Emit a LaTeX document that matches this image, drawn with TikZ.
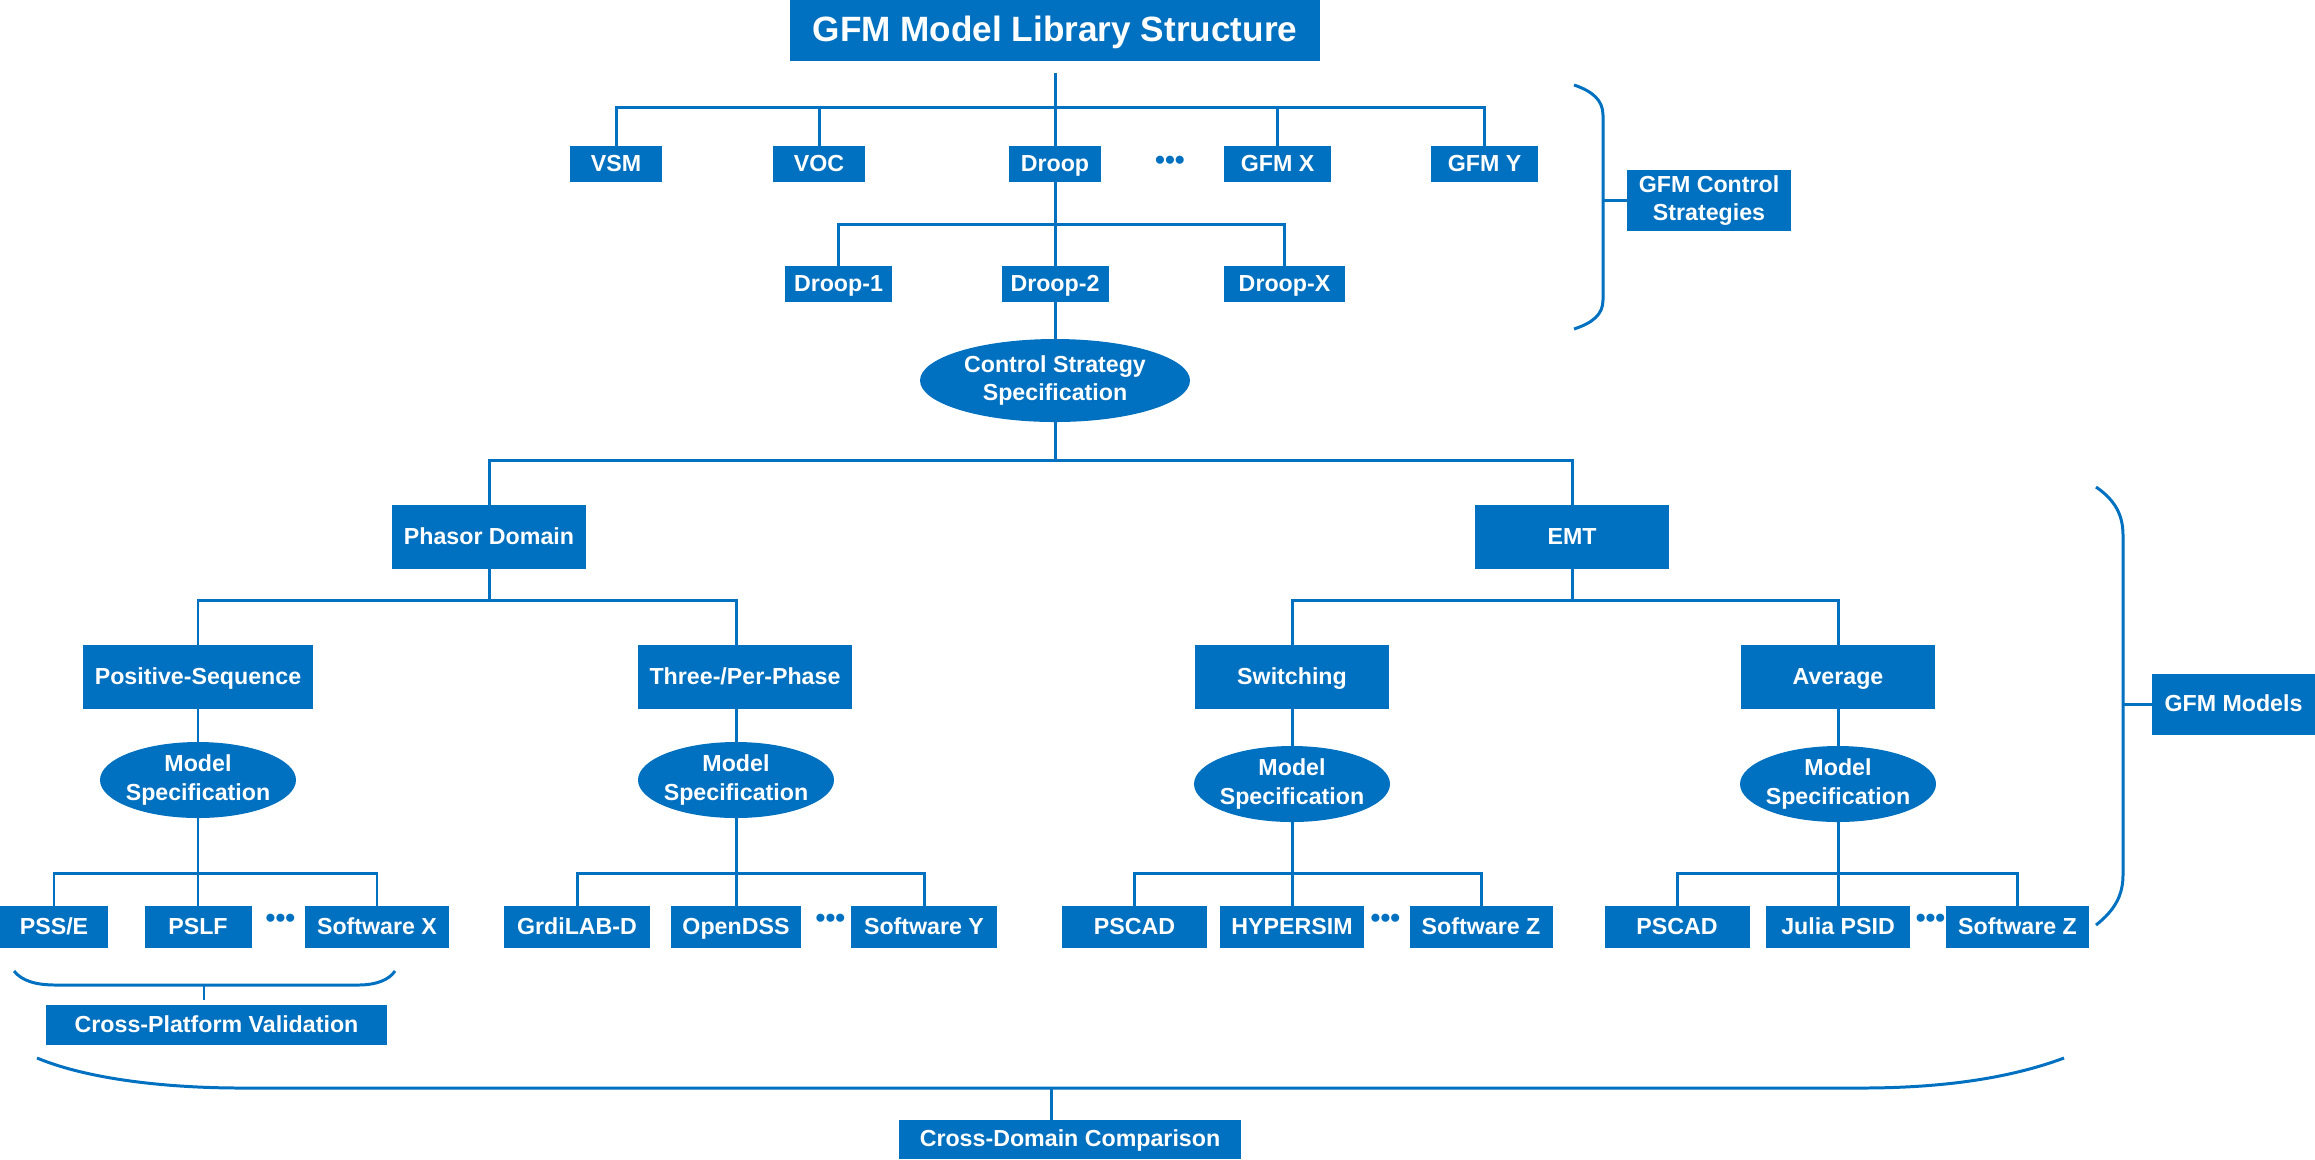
\documentclass[tikz,border=0pt]{standalone}
\usepackage{fontspec}
\setmainfont{Liberation Sans}
\usetikzlibrary{shapes.geometric}
\definecolor{gfmblue}{RGB}{0,112,192}

\begin{document}
\begin{tikzpicture}[x=0.01cm,y=-0.01cm,
  sz/.style 2 args={minimum width=#1*0.01cm,minimum height=#2*0.01cm},
  lbl/.style={text=white,font=\fontsize{6.6}{8.2}\selectfont\bfseries,align=center},
  box/.style={rectangle,fill=gfmblue,inner sep=0pt,outer sep=0pt,lbl},
  one/.style={text height=4.8pt,text depth=0.7pt},
  oval/.style={ellipse,fill=gfmblue,inner xsep=-15pt,inner ysep=-8pt,outer sep=0pt,lbl},
  link/.style={draw=gfmblue,line width=0.85pt},
  brace/.style={draw=gfmblue,line width=0.85pt},
  dots/.style={text=gfmblue,inner sep=0pt,font=\fontsize{8}{9}\selectfont\bfseries}
]
\useasboundingbox (0,0) rectangle (2315,1159);

% ---- title and control strategies ----
\node[box,sz={530}{61},font=\fontsize{10}{12}\selectfont\bfseries,text height=7.2pt,text depth=0.8pt] (title) at (1055,30.5) {GFM Model Library Structure};

\node[box,one,sz={92}{36}]  (vsm)   at (616,164)    {VSM};
\node[box,one,sz={92}{36}]  (voc)   at (819,164)    {VOC};
\node[box,one,sz={92}{36}]  (droop) at (1055,164)   {Droop};
\node[dots]                 (dtop)  at (1170,163)   {•••};
\node[box,one,sz={107}{36}] (gfmx)  at (1277.5,164) {GFM X};
\node[box,one,sz={107}{36}] (gfmy)  at (1484.5,164) {GFM Y};

\node[box,one,sz={107}{36}] (droop1) at (838.5,284)  {Droop-1};
\node[box,one,sz={107}{36}] (droop2) at (1055,284)   {Droop-2};
\node[box,one,sz={121}{36}] (droopx) at (1284.5,284) {Droop-X};

\node[oval,sz={270}{83}] (css) at (1055,380.5) {Control Strategy\\Specification};

\node[box,sz={164}{61}] (gfmcs) at (1709,200.5) {GFM Control\\Strategies};

% ---- domains ----
\node[box,one,sz={194}{64}] (phasor) at (489,537)  {Phasor Domain};
\node[box,one,sz={194}{64}] (emt)    at (1572,537) {EMT};

\node[box,one,sz={230}{64}] (posseq)    at (198,677)  {Positive-Sequence};
\node[box,one,sz={214}{64}] (three)     at (745,677)  {Three-/Per-Phase};
\node[box,one,sz={194}{64}] (switching) at (1292,677) {Switching};
\node[box,one,sz={194}{64}] (average)   at (1838,677) {Average};

\node[oval,sz={196}{76}] (ms1) at (198,780)  {Model\\Specification};
\node[oval,sz={196}{76}] (ms2) at (736,780)  {Model\\Specification};
\node[oval,sz={196}{76}] (ms3) at (1292,784) {Model\\Specification};
\node[oval,sz={196}{76}] (ms4) at (1838,784) {Model\\Specification};

% ---- software tools ----
\node[box,one,sz={108}{42}] (psse)  at (54,927)  {PSS/E};
\node[box,one,sz={107}{42}] (pslf)  at (198,927) {PSLF};
\node[dots]                 (d1)    at (280.5,921) {•••};
\node[box,one,sz={144}{42}] (softx) at (377,927) {Software X};

\node[box,one,sz={146}{42}] (grid)  at (577,927) {GrdiLAB-D};
\node[box,one,sz={130}{42}] (odss)  at (736,927) {OpenDSS};
\node[dots]                 (d2)    at (830.5,921) {•••};
\node[box,one,sz={146}{42}] (softy) at (924,927) {Software Y};

\node[box,one,sz={145}{42}] (pscadA) at (1134.5,927) {PSCAD};
\node[box,one,sz={144}{42}] (hyper)  at (1292,927)   {HYPERSIM};
\node[dots]                 (d3)     at (1385.5,921) {•••};
\node[box,one,sz={143}{42}] (softzA) at (1481,927)   {Software Z};

\node[box,one,sz={145}{42}] (pscadB) at (1677,927)   {PSCAD};
\node[box,one,sz={144}{42}] (julia)  at (1838,927)   {Julia PSID};
\node[dots]                 (d4)     at (1930.5,921) {•••};
\node[box,one,sz={143}{42}] (softzB) at (2017.5,927) {Software Z};

% ---- side labels ----
\node[box,one,sz={163}{61}] (gfmm) at (2233.5,704.5) {GFM Models};
\node[box,one,sz={341}{40}] (cpv)  at (216.5,1025)   {Cross-Platform Validation};
\node[box,one,sz={342}{39}] (cdc)  at (1070,1139.5)  {Cross-Domain Comparison};

% ---- tree connectors ----
\coordinate (bar1) at (1055,107);
\draw[link,shorten <=0.12cm] (title.south) -- (bar1);
\draw[link] (vsm.north) |- (gfmy.north |- bar1) -- (gfmy.north);
\draw[link] (voc.north) -- (voc.north |- bar1);
\draw[link] (bar1) -- (droop.north);
\draw[link] (gfmx.north) -- (gfmx.north |- bar1);

\coordinate (bar2) at (1055,224);
\draw[link] (droop.south) -- (droop2.north);
\draw[link] (droop1.north) |- (droopx.north |- bar2) -- (droopx.north);

\draw[link] (droop2.south) -- (css.north);
\coordinate (bar3) at (1055,460);
\draw[link] (css.south) -- (bar3);
\draw[link] (phasor.north) |- (emt.north |- bar3) -- (emt.north);

\coordinate (bar4) at (489,600);
\draw[link] (phasor.south) -- (bar4);
\draw[link] (posseq.north) |- (ms2.north |- bar4) -- (ms2.north |- three.north);
\draw[link] (emt.south) -- (emt.south |- bar4);
\draw[link] (switching.north) |- (average.north |- bar4) -- (average.north);

\draw[link] (posseq.south) -- (ms1.north);
\draw[link] (ms2.north |- three.south) -- (ms2.north);
\draw[link] (switching.south) -- (ms3.north);
\draw[link] (average.south) -- (ms4.north);

\coordinate (bar5) at (0,873);
\draw[link] (ms1.south) -- (ms1.south |- bar5);
\draw[link] (psse.north) |- (softx.north |- bar5) -- (softx.north);
\draw[link] (pslf.north) -- (pslf.north |- bar5);

\draw[link] (ms2.south) -- (ms2.south |- bar5);
\draw[link] (grid.north) |- (softy.north |- bar5) -- (softy.north);
\draw[link] (odss.north) -- (odss.north |- bar5);

\draw[link] (ms3.south) -- (ms3.south |- bar5);
\draw[link] (pscadA.north) |- (softzA.north |- bar5) -- (softzA.north);
\draw[link] (hyper.north) -- (hyper.north |- bar5);

\draw[link] (ms4.south) -- (ms4.south |- bar5);
\draw[link] (pscadB.north) |- (softzB.north |- bar5) -- (softzB.north);
\draw[link] (julia.north) -- (julia.north |- bar5);

% ---- braces ----
\draw[brace] (1574,85) .. controls (1592,91) and (1603,100) .. (1603,115)
  -- (1603,300) .. controls (1603,315) and (1592,323) .. (1574,329);
\coordinate (braceA) at (1603,200.5);
\draw[link] (braceA) -- (gfmcs.west);

\draw[brace] (2096,487) .. controls (2115,500) and (2123,515) .. (2123,535)
  -- (2123,875) .. controls (2123,895) and (2115,910) .. (2096,925);
\coordinate (braceB) at (2123,704.5);
\draw[link] (braceB) -- (gfmm.west);

\draw[brace] (14,971) .. controls (22,981) and (36,985) .. (56,985)
  -- (358,985) .. controls (376,985) and (389,980) .. (395,971);
\coordinate (braceC) at (204,985);
\draw[link,shorten >=0.05cm] (braceC) -- (braceC |- cpv.north);

\draw[brace] (37,1058) .. controls (90,1080) and (170,1088) .. (242,1088)
  -- (1861,1088) .. controls (1935,1088) and (2005,1080) .. (2064,1058);
\coordinate (braceD) at (1051,1088);
\draw[link] (braceD) -- (braceD |- cdc.north);
\end{tikzpicture}
\end{document}
